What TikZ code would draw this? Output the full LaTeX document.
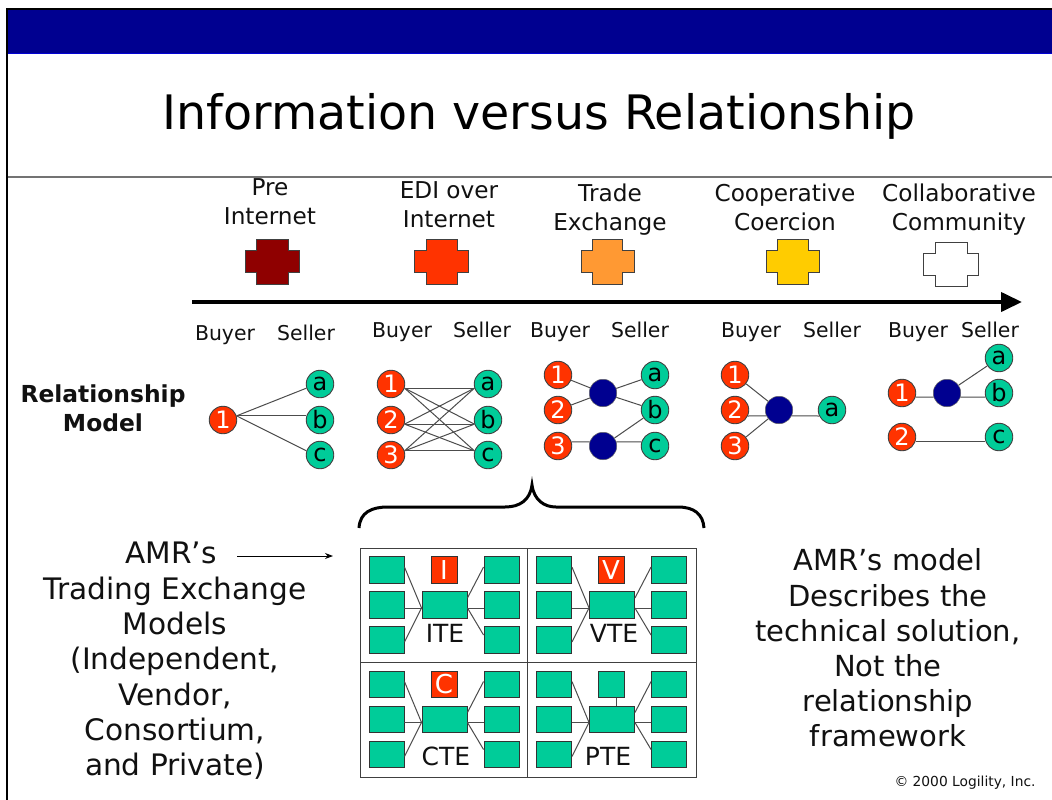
\documentclass[tikz,border=0pt]{standalone}
\usepackage{fontspec}
\setmainfont{DejaVu Sans}
\usetikzlibrary{arrows.meta}
\definecolor{navyb}{HTML}{000090}
\definecolor{redo}{HTML}{FF3300}
\definecolor{greenb}{HTML}{00CC99}
\definecolor{ink}{HTML}{111111}
\definecolor{crossdark}{HTML}{8F0000}
\definecolor{crossorange}{HTML}{FF9933}
\definecolor{crossyellow}{HTML}{FFCC00}
\newcommand{\fs}[1]{\fontsize{#1}{#1}\selectfont}
\tikzset{
  lbl/.style={anchor=base,inner sep=0pt,text=ink},
  toplbl/.style={lbl,font=\fs{23.2}},
  bs/.style={lbl,font=\fs{20.4}},
  big/.style={lbl,font=\fs{29.6}},
  bigr/.style={lbl,font=\fs{29}},
  bold/.style={lbl,font=\fs{23.4}\bfseries},
  buyer/.style={circle,draw=black!75,line width=0.9pt,fill=redo,text=white,minimum size=27.5pt,inner sep=0pt,font=\fs{24}},
  seller/.style={circle,draw=black!75,line width=0.9pt,fill=greenb,text=black,minimum size=27.5pt,inner sep=0pt,font=\fs{24}},
  hub/.style={circle,draw=black!60,line width=0.5pt,fill=navyb,minimum size=27.5pt,inner sep=0pt},
  link/.style={draw=black!70,line width=1pt},
  gbox/.style={rectangle,draw=black!80,line width=0.9pt,fill=greenb,inner sep=0pt,minimum width=35pt,minimum height=26.5pt},
  hubbox/.style={gbox,minimum width=45pt},
  tagbox/.style={gbox,minimum width=26pt,fill=redo,text=white,font=\fs{26}},
  pbox/.style={gbox,minimum width=26pt},
  celltext/.style={lbl,font=\fs{25}},
  crossline/.style={draw=black!75,line width=0.9pt},
}
% cross: fill colour, x0 x1 x2 x3, y0 y1 y2 y3
\newcommand{\crossshape}[9]{%
  \path[crossline,fill=#1] (#3,#6)--(#4,#6)--(#4,#7)--(#5,#7)--(#5,#8)--(#4,#8)--(#4,#9)--(#3,#9)--(#3,#8)--(#2,#8)--(#2,#7)--(#3,#7)--cycle;}
% trading-exchange cell: prefix, dx, dy
\newcommand{\tecell}[3]{%
  \node[gbox] (#1L1) at (#2+386.5,#3+570) {};
  \node[gbox] (#1L2) at (#2+386.5,#3+605) {};
  \node[gbox] (#1L3) at (#2+386.5,#3+640) {};
  \node[hubbox] (#1H) at (#2+444.5,#3+605) {};
  \node[gbox] (#1R1) at (#2+501.5,#3+570) {};
  \node[gbox] (#1R2) at (#2+501.5,#3+605) {};
  \node[gbox] (#1R3) at (#2+501.5,#3+640) {};
  \draw[link] ([yshift=3pt]#1L1.east) -- ([yshift=-3pt]#1H.west);
  \draw[link] ([yshift=-3pt]#1L2.east) -- ([yshift=-3pt]#1H.west);
  \draw[link] ([yshift=-2pt]#1L3.east) -- ([yshift=-3pt]#1H.west);
  \draw[link] ([yshift=7pt]#1H.east) -- ([yshift=3pt]#1R1.west);
  \draw[link] ([yshift=-3pt]#1H.east) -- ([yshift=-3pt]#1R2.west);
  \draw[link] ([yshift=-3pt]#1H.east) -- ([yshift=5pt]#1R3.west);
}
\begin{document}
\begin{tikzpicture}[x=1pt,y=-1pt]
\useasboundingbox (0,0) rectangle (1052,800);
\fill[white] (0,0) rectangle (1052,800);
% frame and header
\fill[navyb] (7,9) rectangle (1052,53);
\draw[black,line width=2pt] (6.5,800) -- (6.5,9) -- (1052,9);
\draw[blue!60!navyb,line width=0.6pt] (7.5,53) -- (1052,53);
\draw[black!55,line width=1.2pt] (7.5,177) -- (1052,177);
\node[lbl,font=\fs{47.5},text=black] (title) at (539,129) {Information versus Relationship};
% stage labels
\node[toplbl] (t1a) at (270,195) {Pre};
\node[toplbl] (t1b) at (270,224) {Internet};
\node[toplbl] (t2a) at (449,198) {EDI over};
\node[toplbl] (t2b) at (449,227) {Internet};
\node[toplbl] (t3a) at (610,201) {Trade};
\node[toplbl] (t3b) at (610,230) {Exchange};
\node[toplbl] (t4a) at (785,201) {Cooperative};
\node[toplbl] (t4b) at (785,230) {Coercion};
\node[toplbl] (t5a) at (959,201) {Collaborative};
\node[toplbl] (t5b) at (959,230) {Community};
% crosses
\crossshape{crossdark}{245}{256}{288}{299}{239}{250}{272}{284}
\crossshape{redo}{414}{426}{457}{468}{239}{250}{272}{284}
\crossshape{crossorange}{581}{592}{622}{634}{239}{250}{272}{284}
\crossshape{crossyellow}{766}{777}{808}{819}{239}{250}{272}{284}
\crossshape{white}{923}{935}{967}{978}{242}{253}{275}{286}
% timeline arrow
\coordinate (arrowstart) at (192,302);
\coordinate (arrowend) at (1022,302);
\draw[black,line width=4pt,-{Triangle[length=21pt,width=19pt]}] (arrowstart) -- (arrowend);
% buyer / seller
\node[bs] (b1) at (225,340) {Buyer};
\node[bs] (s1) at (306,340) {Seller};
\node[bs] (b2) at (402,337) {Buyer};
\node[bs] (s2) at (482,337) {Seller};
\node[bs] (b3) at (560,337) {Buyer};
\node[bs] (s3) at (640,337) {Seller};
\node[bs] (b4) at (751,337) {Buyer};
\node[bs] (s4) at (832,337) {Seller};
\node[bs] (b5) at (918,337) {Buyer};
\node[bs] (s5) at (990,337) {Seller};
% relationship model
\node[bold] (rm1) at (103,402) {Relationship};
\node[bold] (rm2) at (103,431) {Model};
% model 1
\node[buyer] (p1n1) at (223,420) {1};
\node[seller] (p1a) at (320,384) {a};
\node[seller] (p1b) at (320,420) {b};
\node[seller] (p1c) at (320,455) {c};
\draw[link] (p1n1.17) -- (p1a.197);
\draw[link] (p1n1.17) -- (p1b.163);
\draw[link] (p1n1.17) -- (p1c.163);
% model 2
\node[buyer] (p2n1) at (391,384) {1};
\node[buyer] (p2n2) at (391,420) {2};
\node[buyer] (p2n3) at (391,455) {3};
\node[seller] (p2a) at (488,384) {a};
\node[seller] (p2b) at (488,420) {b};
\node[seller] (p2c) at (488,455) {c};
\foreach \l/\la in {p2n1/-17,p2n2/-17,p2n3/17}
  \foreach \r/\ra in {p2a/197,p2b/197,p2c/163}
    \draw[link] (\l.\la) -- (\r.\ra);
% model 3
\node[buyer] (p3n1) at (558,375) {1};
\node[buyer] (p3n2) at (558,410) {2};
\node[buyer] (p3n3) at (558,446) {3};
\node[hub] (p3h1) at (603,393) {};
\node[hub] (p3h2) at (603,446) {};
\node[seller] (p3a) at (655,375) {a};
\node[seller] (p3b) at (655,410) {b};
\node[seller] (p3c) at (655,446) {c};
\draw[link] (p3n1) -- (p3h1);
\draw[link] (p3n2) -- (p3h1);
\draw[link] (p3n3.17) -- (p3h2.163);
\draw[link] (p3h1) -- (p3a);
\draw[link] (p3h1) -- (p3b);
\draw[link] (p3h2) -- (p3b);
\draw[link] (p3h2.17) -- (p3c.163);
% model 4
\node[buyer] (p4n1) at (735,375) {1};
\node[buyer] (p4n2) at (735,410) {2};
\node[buyer] (p4n3) at (735,446) {3};
\node[hub] (p4h) at (779,410) {};
\node[seller] (p4a) at (832,410) {a};
\draw[link] (p4n1) -- (p4h);
\draw[link] (p4n2.-25) -- (p4h.205);
\draw[link] (p4n3) -- (p4h);
\draw[link] (p4h.-25) -- (p4a.205);
% model 5
\node[buyer] (p5n1) at (902,393) {1};
\node[buyer] (p5n2) at (902,437) {2};
\node[hub] (p5h) at (947,393) {};
\node[seller] (p5a) at (999,358) {a};
\node[seller] (p5b) at (999,393) {b};
\node[seller] (p5c) at (999,437) {c};
\draw[link] (p5n1.-17) -- (p5h.197);
\draw[link] (p5h) -- (p5a);
\draw[link] (p5h.-17) -- (p5b.197);
\draw[link] (p5n2.-17) -- (p5c.197);
% brace
\draw[black,line width=3pt] (359,528) .. controls (360,512) and (372,507) .. (388,507) -- (505,507) .. controls (520,507) and (530,500) .. (532,485) .. controls (534,500) and (544,507) .. (556,507) -- (678,507) .. controls (694,507) and (703,514) .. (704,528);
% left text
\node[big] (l1) at (171,563) {AMR’s};
\node[big] (l2) at (175,599) {Trading Exchange};
\node[big] (l3) at (175,634) {Models};
\node[big] (l4) at (175,669) {(Independent,};
\node[big] (l5) at (175,705) {Vendor,};
\node[big] (l6) at (175,740) {Consortium,};
\node[big] (l7) at (175,775) {and Private)};
\coordinate (amrfrom) at (237,556);
\coordinate (amrto) at (333,556);
\draw[black,line width=1pt,-{Stealth[length=8pt,width=6pt]}] (amrfrom) -- (amrto);
% right text
\node[bigr] (r1) at (888,570) {AMR’s model};
\node[bigr] (r2) at (888,606) {Describes the};
\node[bigr] (r3) at (888,641) {technical solution,};
\node[bigr] (r4) at (888,676) {Not the};
\node[bigr] (r5) at (888,711) {relationship};
\node[bigr] (r6) at (888,746) {framework};
\node[lbl,font=\fs{13.8}] (copy) at (965,786) {© 2000 Logility, Inc.};
% grid
\draw[black!75,line width=1pt] (360,548) rectangle (696,777);
\draw[black!75,line width=1pt] (527,548) -- (527,777);
\draw[black!75,line width=1pt] (360,662) -- (696,662);
\tecell{i}{0}{0}
\tecell{v}{167.5}{0}
\tecell{c}{0}{114.5}
\tecell{p}{167.5}{114.5}
\node[tagbox] (tagi) at (444,570) {I};
\node[tagbox] (tagv) at (611,570) {V};
\node[tagbox] (tagc) at (444,684.5) {C};
\node[pbox] (tagp) at (611,684.5) {};
\draw[link] ([xshift=5pt]tagp.south) -- ([xshift=5pt]tagp.south|-pH.north);
\node[celltext] (ite) at (445,642) {ITE};
\node[celltext] (vte) at (614,642) {VTE};
\node[celltext] (cte) at (446,765) {CTE};
\node[celltext] (pte) at (608,765) {PTE};
\end{tikzpicture}
\end{document}
